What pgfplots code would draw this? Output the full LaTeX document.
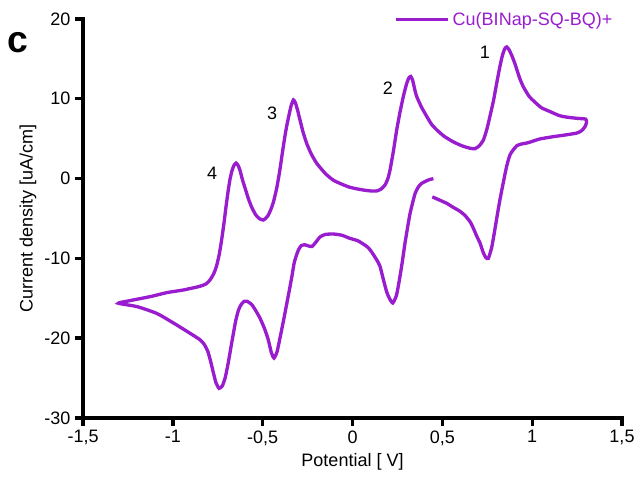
\documentclass[border=0pt]{standalone}
\usepackage{pgfplots}
\pgfplotsset{compat=1.18}
\usepackage{fontspec}
\setmainfont{Liberation Sans}
\definecolor{cvpurple}{RGB}{153,28,207}
\begin{document}
\begin{tikzpicture}
\begin{axis}[
  scale only axis,
  width=404pt, height=299pt,
  xmin=-1.5, xmax=1.5, ymin=-30, ymax=20,
  axis x line*=bottom, axis y line*=left,
  axis line style={line width=2.5pt, line cap=rect},
  every tick/.style={line width=2.5pt, black},
  tick align=outside, major tick length=6pt,
  xtick={-1.5,-1,-0.5,0,0.5,1,1.5},
  xticklabels={{-1,5},{-1},{-0,5},{0},{0,5},{1},{1,5}},
  ytick={-30,-20,-10,0,10,20},
  yticklabels={{-30},{-20},{-10},{0},{10},{20}},
  ticklabel style={font=\fontsize{13.5}{16}\selectfont, text=black},
  xlabel={Potential [ V]},
  ylabel={Current density [uA/cm]},
  label style={font=\fontsize{13.5}{16}\selectfont},
  xlabel style={yshift=1pt},
  ylabel style={yshift=-1pt},
  clip=false,
  legend style={draw=none, fill=none, at={(0.99,1.028)}, anchor=north east,
    font=\fontsize{13.5}{16}\selectfont, text=cvpurple, inner sep=1pt},
  legend cell align=left,
  legend image code/.code={\draw[#1, line width=2.5pt] (0pt,0pt) -- (39pt,0pt);},
]
\addplot[cvpurple, line width=2.5pt, smooth, tension=0.35] coordinates {
(0.450,0.0) (0.420,-0.2) (0.385,-0.6) (0.365,-1.1) (0.348,-1.9) (0.335,-3.0) (0.320,-4.4)
(0.306,-6.2) (0.292,-8.1) (0.278,-10.3) (0.264,-12.3) (0.245,-14.6) (0.224,-15.6)
(0.205,-15.0) (0.190,-14.2) (0.170,-12.5) (0.153,-11.0) (0.135,-10.2) (0.100,-9.0)
(0.079,-8.5) (0.030,-7.8) (-0.014,-7.5) (-0.060,-7.1) (-0.107,-6.95) (-0.150,-7.0)
(-0.180,-7.3) (-0.205,-8.0) (-0.225,-8.5) (-0.245,-8.45) (-0.265,-8.3) (-0.285,-8.4)
(-0.300,-8.9) (-0.312,-9.6) (-0.325,-10.6) (-0.337,-12.2) (-0.350,-13.8) (-0.367,-15.8)
(-0.385,-17.9) (-0.403,-19.9) (-0.420,-21.7) (-0.437,-22.5) (-0.452,-21.8) (-0.469,-20.2)
(-0.490,-18.8) (-0.515,-17.5) (-0.540,-16.5) (-0.561,-15.8) (-0.585,-15.4) (-0.604,-15.4)
(-0.620,-15.8) (-0.635,-16.5) (-0.650,-17.8) (-0.663,-19.4) (-0.678,-21.3) (-0.691,-23.0)
(-0.708,-24.9) (-0.725,-26.0) (-0.743,-26.3) (-0.760,-25.6) (-0.775,-24.3) (-0.790,-22.9)
(-0.805,-21.7) (-0.825,-20.8) (-0.849,-20.2) (-0.904,-19.4) (-0.997,-18.1) (-1.090,-16.9)
(-1.200,-16.05) (-1.303,-15.63)
(-1.250,-15.35) (-1.126,-14.8) (-1.034,-14.3) (-0.940,-13.96) (-0.849,-13.5) (-0.815,-13.2)
(-0.793,-12.7) (-0.772,-11.9) (-0.756,-10.9) (-0.741,-9.4) (-0.728,-7.6) (-0.715,-5.5)
(-0.704,-3.5) (-0.692,-1.5) (-0.682,-0.1) (-0.672,0.9) (-0.661,1.6) (-0.648,1.95)
(-0.636,1.6) (-0.626,1.0) (-0.612,-0.2) (-0.598,-1.2) (-0.580,-2.5) (-0.561,-3.6)
(-0.540,-4.5) (-0.520,-5.0) (-0.496,-5.2) (-0.472,-4.7) (-0.455,-3.9) (-0.441,-3.0)
(-0.422,-1.2) (-0.405,1.0) (-0.388,3.6) (-0.372,5.9) (-0.357,7.6) (-0.342,9.1)
(-0.329,9.85) (-0.318,9.5) (-0.305,8.5) (-0.292,7.3) (-0.275,5.8) (-0.255,4.4)
(-0.230,3.1) (-0.199,1.9) (-0.150,0.6) (-0.107,-0.2) (-0.060,-0.7) (-0.014,-1.1)
(0.050,-1.4) (0.100,-1.55) (0.135,-1.55) (0.160,-1.3) (0.181,-0.8) (0.197,0.0)
(0.209,1.1) (0.228,3.5) (0.246,6.1) (0.265,8.4) (0.283,10.3) (0.300,11.8) (0.313,12.6)
(0.324,12.8) (0.335,12.3) (0.345,11.3) (0.357,10.3) (0.385,8.9) (0.413,7.8) (0.440,6.8)
(0.469,6.1) (0.510,5.3) (0.561,4.6) (0.610,4.1) (0.654,3.8) (0.682,3.75) (0.705,4.1)
(0.728,4.8) (0.748,6.2) (0.765,7.8) (0.785,9.8) (0.802,11.9) (0.820,14.0) (0.835,15.5)
(0.848,16.3) (0.858,16.5) (0.870,16.2) (0.885,15.5) (0.904,14.4) (0.930,12.6) (0.951,11.5)
(0.980,10.4) (1.000,9.9) (1.050,8.9) (1.099,8.4) (1.150,7.9) (1.192,7.7) (1.250,7.55)
(1.298,7.45) (1.302,7.0) (1.294,6.5) (1.275,6.0) (1.248,5.7) (1.180,5.45) (1.117,5.25)
(1.040,4.95) (0.978,4.5) (0.935,4.3) (0.914,4.1) (0.895,3.6) (0.877,3.0) (0.862,1.9)
(0.849,0.6) (0.835,-1.0) (0.821,-2.6) (0.807,-4.4) (0.793,-6.3) (0.775,-8.6) (0.756,-10.0)
(0.742,-9.9) (0.728,-9.3) (0.710,-8.1) (0.691,-7.2) (0.672,-6.2) (0.654,-5.4) (0.625,-4.6)
(0.598,-4.1) (0.560,-3.6) (0.524,-3.1) (0.485,-2.7) (0.444,-2.3)
};
\addlegendentry{Cu(BINap-SQ-BQ)+}
\node[font=\fontsize{13.5}{16}\selectfont] at (axis cs:0.737,15.85) {1};
\node[font=\fontsize{13.5}{16}\selectfont] at (axis cs:0.197,11.35) {2};
\node[font=\fontsize{13.5}{16}\selectfont] at (axis cs:-0.448,8.2) {3};
\node[font=\fontsize{13.5}{16}\selectfont] at (axis cs:-0.782,0.7) {4};
\node[font=\fontsize{28}{30}\selectfont\bfseries] at (axis cs:-1.86,17.0) {c};
\node[font=\fontsize{13.5}{16}\selectfont, text=gray, anchor=west, inner sep=0pt] at (axis cs:1.585,17.4) {(};
\end{axis}
\pgfresetboundingbox
\useasboundingbox ([xshift=-62.25pt,yshift=-48pt]current axis.south west) rectangle ([xshift=12pt,yshift=14.25pt]current axis.north east);
\end{tikzpicture}
\end{document}
